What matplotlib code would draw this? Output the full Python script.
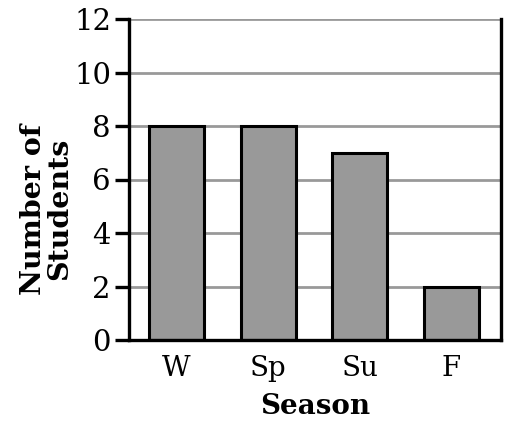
import matplotlib
matplotlib.use("Agg")
import matplotlib.pyplot as plt

seasons = ["W", "Sp", "Su", "F"]
students = [8, 8, 7, 2]
yticks = [0, 2, 4, 6, 8, 10, 12]

plt.rcParams['font.family'] = ['DejaVu Serif']

fig = plt.figure(figsize=(5.11, 4.28), dpi=100)
ax = fig.add_axes([129/511, 1 - 340/428, (500.5 - 129)/511, (340 - 19)/428])

x = range(len(seasons))
ax.bar(x, students, width=0.6, color="#999999", edgecolor="black", linewidth=2.2, zorder=3)

ax.set_xlim(-0.52, 3.54)
ax.set_ylim(0, 12)
ax.set_yticks(yticks)
ax.set_xticks(list(x))
ax.set_xticklabels(seasons)
ax.yaxis.grid(True, color="#999999", linewidth=2, zorder=0)
ax.set_axisbelow(True)

ax.spines["top"].set_visible(False)
for s in ["left", "right", "bottom"]:
    ax.spines[s].set_linewidth(2.4)
    ax.spines[s].set_zorder(4)

ax.tick_params(axis="y", length=10, width=2.4, labelsize=21, pad=3)
ax.tick_params(axis="x", length=0, labelsize=20, pad=11)

ax.set_xlabel("Season", fontsize=20, fontweight="bold", labelpad=8)
ax.set_ylabel("Number of\nStudents", fontsize=20.5, fontweight="bold", linespacing=0.95)
ax.yaxis.set_label_coords(-0.151, 0.408)

fig.savefig("out.png", dpi=100)
